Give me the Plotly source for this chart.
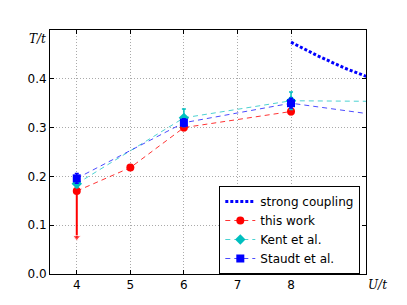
import plotly.graph_objects as go

# ---- data ----
U_this = [4, 5, 6, 8]
T_this = [0.17, 0.218, 0.30, 0.333]
T_this_err = [0.0, 0.004, 0.006, 0.006]
this_limit_U = [4, 4]
this_limit_T = [0.17, 0.075]

U_kent = [4, 6, 8, 12]
T_kent = [0.185, 0.32, 0.355, 0.352]
T_kent_err = [0.008, 0.018, 0.018, 0.018]

U_staudt = [4, 6, 8, 10]
T_staudt = [0.196, 0.31, 0.35, 0.32]
T_staudt_err = [0.01, 0.008, 0.01, 0.01]

U_strong = [8, 8.5, 9, 9.5, 10]
T_strong = [0.475, 0.447, 0.422, 0.400, 0.38]

xticks = [4, 5, 6, 7, 8]
yticks = [0.0, 0.1, 0.2, 0.3, 0.4]

RED = "#ff0000"
CYAN = "#00bfbf"
BLUE = "#0000ff"

fig = go.Figure()

fig.add_trace(go.Scatter(
    x=U_strong, y=T_strong, mode="lines", name="strong coupling",
    line=dict(color=BLUE, width=3, dash="3px,2px")))

fig.add_trace(go.Scatter(
    x=this_limit_U, y=this_limit_T, mode="lines+markers", showlegend=False,
    line=dict(color=RED, width=2),
    marker=dict(symbol=["circle", "triangle-down"], size=[0, 7], color=RED)))

fig.add_trace(go.Scatter(
    x=U_this, y=T_this, mode="lines+markers", name="this work",
    line=dict(color="rgba(255,0,0,0.8)", width=1, dash="5px,4px"),
    marker=dict(symbol="circle", size=8, color=RED),
    error_y=dict(type="data", array=T_this_err, color=RED, thickness=1.5, width=2)))

fig.add_trace(go.Scatter(
    x=U_kent, y=T_kent, mode="lines+markers", name="Kent et al.",
    line=dict(color="rgba(0,191,191,0.7)", width=1, dash="5px,4px"),
    marker=dict(symbol="diamond", size=8, color=CYAN),
    error_y=dict(type="data", array=T_kent_err, color=CYAN, thickness=1.5, width=2)))

fig.add_trace(go.Scatter(
    x=U_staudt, y=T_staudt, mode="lines+markers", name="Staudt et al.",
    line=dict(color="rgba(0,0,255,0.7)", width=1, dash="5px,4px"),
    marker=dict(symbol="square", size=8, color=BLUE),
    error_y=dict(type="data", array=T_staudt_err, color=BLUE, thickness=1.5, width=2)))

axis_common = dict(
    showline=True, linecolor="black", linewidth=1, mirror="ticks",
    ticks="inside", ticklen=4, tickcolor="black",
    showgrid=True, gridcolor="#aaaaaa", griddash="1px,2px", gridwidth=1,
    zeroline=False, tickfont=dict(family="DejaVu Sans", size=12, color="black"),
)

fig.update_xaxes(range=[3.5, 9.4], tickvals=xticks, ticktext=[str(v) for v in xticks], **axis_common)
fig.update_yaxes(range=[0, 0.5], tickvals=yticks, ticktext=[f"{v:.1f}" for v in yticks], **axis_common)

fig.add_annotation(xref="paper", yref="paper", x=-0.005, y=1.0, xanchor="right", yanchor="top",
                   text="<i>T/t</i>", showarrow=False,
                   font=dict(family="DejaVu Serif", size=12, color="black"))
fig.add_annotation(xref="paper", yref="paper", x=1.0, y=-0.01, xanchor="left", yanchor="top",
                   text="<i>U/t</i>", showarrow=False,
                   font=dict(family="DejaVu Serif", size=12, color="black"))

fig.update_layout(
    width=407, height=305,
    margin=dict(l=50, r=41, t=30, b=31),
    paper_bgcolor="white", plot_bgcolor="white",
    font=dict(family="DejaVu Sans", size=12, color="black"),
    legend=dict(x=0.982, y=0.0, xanchor="right", yanchor="bottom",
                bgcolor="white", bordercolor="black", borderwidth=1,
                font=dict(size=12), itemwidth=30, tracegroupgap=0),
    showlegend=True,
)

fig.write_html("out.html", config={"displayModeBar": False},
               post_script="document.body.style.margin='0';document.body.style.padding='0';")
